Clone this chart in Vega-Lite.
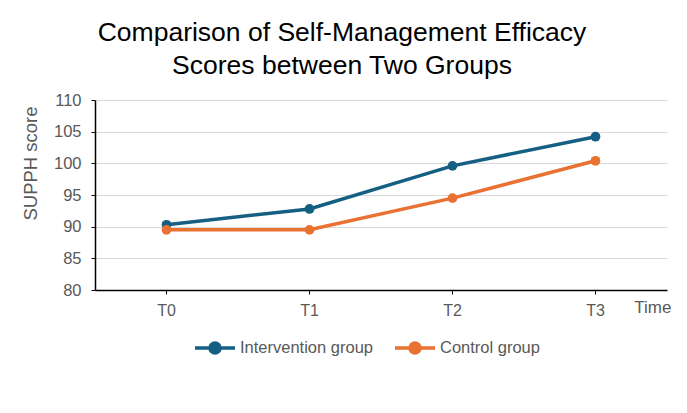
{
  "$schema": "https://vega.github.io/schema/vega-lite/v6.json",
  "width": 572,
  "height": 190,
  "autosize": {"type": "none"},
  "padding": {"left": 95, "top": 100, "right": 20, "bottom": 123},
  "background": "white",
  "title": {
    "text": ["Comparison of Self-Management Efficacy", "Scores between Two Groups"],
    "anchor": "middle",
    "frame": "group",
    "dx": -39,
    "offset": 13,
    "font": "Liberation Sans",
    "fontSize": 26.5,
    "fontWeight": "normal",
    "color": "#000000",
    "lineHeight": 33
  },
  "data": {
    "values": [
      {"time": "T0", "group": "Intervention group", "score": 90.3},
      {"time": "T1", "group": "Intervention group", "score": 92.8},
      {"time": "T2", "group": "Intervention group", "score": 99.6},
      {"time": "T3", "group": "Intervention group", "score": 104.2},
      {"time": "T0", "group": "Control group", "score": 89.5},
      {"time": "T1", "group": "Control group", "score": 89.5},
      {"time": "T2", "group": "Control group", "score": 94.5},
      {"time": "T3", "group": "Control group", "score": 100.4}
    ]
  },
  "mark": {
    "type": "line",
    "strokeWidth": 3.5,
    "point": {"filled": true, "size": 95, "opacity": 1}
  },
  "encoding": {
    "x": {
      "field": "time",
      "type": "ordinal",
      "scale": {"type": "band", "paddingInner": 0, "paddingOuter": 0},
      "axis": {
        "title": "Time",
        "titleX": 576,
        "titleY": 22,
        "titleAlign": "right",
        "titleBaseline": "alphabetic",
        "titleFont": "Liberation Sans",
        "titleFontSize": 17,
        "titleFontWeight": "normal",
        "titleColor": "#595959",
        "labelAngle": 0,
        "labelFont": "Liberation Sans",
        "labelFontSize": 16,
        "labelColor": "#595959",
        "labelPadding": 8,
        "tickBand": "center",
        "tickSize": 4,
        "tickColor": "#000000",
        "domainColor": "#000000",
        "domainWidth": 1.5,
        "grid": false
      }
    },
    "y": {
      "field": "score",
      "type": "quantitative",
      "scale": {"domain": [80, 110], "nice": false, "zero": false},
      "axis": {
        "title": "SUPPH score",
        "titleX": -65,
        "titleY": 63,
        "titleAlign": "center",
        "titleBaseline": "middle",
        "titleAngle": -90,
        "titleFont": "Liberation Sans",
        "titleFontSize": 18.5,
        "titleFontWeight": "normal",
        "titleColor": "#595959",
        "values": [80, 85, 90, 95, 100, 105, 110],
        "labelFont": "Liberation Sans",
        "labelFontSize": 16.5,
        "labelColor": "#595959",
        "labelPadding": 10,
        "tickSize": 4,
        "tickColor": "#000000",
        "domainColor": "#000000",
        "domainWidth": 1.5,
        "gridColor": "#d9d9d9",
        "gridWidth": 1.2
      }
    },
    "color": {
      "field": "group",
      "type": "nominal",
      "scale": {
        "domain": ["Intervention group", "Control group"],
        "range": ["#156082", "#E97132"]
      },
      "legend": {
        "title": null,
        "orient": "none",
        "direction": "horizontal",
        "legendX": 98,
        "legendY": 226,
        "symbolType": "M-1,0H1M-0.25,0a0.25,0.25 0 1,0 0.5,0a0.25,0.25 0 1,0 -0.5,0Z",
        "symbolSize": 1600,
        "symbolStrokeWidth": 3.5,
        "labelFont": "Liberation Sans",
        "labelFontSize": 16.5,
        "labelColor": "#595959",
        "labelOffset": 3,
        "columnPadding": 14,
        "encode": {
          "symbols": {
            "update": {
              "fill": {"scale": "color", "field": "value"},
              "stroke": {"scale": "color", "field": "value"},
              "fillOpacity": {"value": 1}
            }
          }
        }
      }
    }
  },
  "config": {
    "view": {"stroke": null}
  }
}
